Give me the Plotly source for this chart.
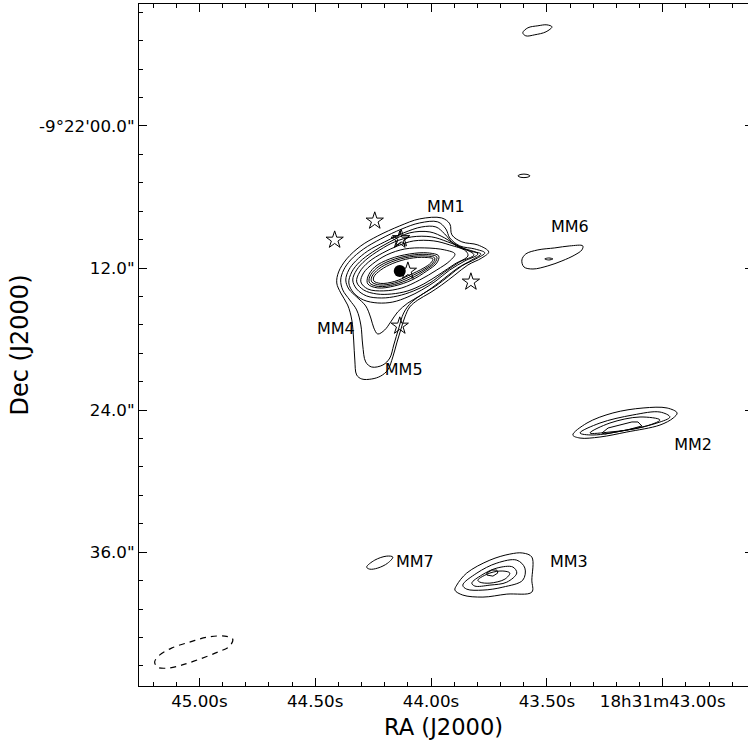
import plotly.graph_objects as go

FONT = "DejaVu Sans"

# ---- axis ticks ----
ra_tickvals = [45.0, 44.5, 44.0, 43.5, 43.0]
ra_ticktext = ["45.00s", "44.50s", "44.00s", "43.50s", "18h31m43.00s"]
dec_tickvals = [0, -12, -24, -36]
dec_ticktext = ["-9°22'00.0\"", "12.0\"", "24.0\"", "36.0\""]

# ---- contours: (RA seconds of 18h31m, Dec arcsec offset from -9°22'00") ----
mm1_c1 = [(44.049, -7.85), (43.954, -7.77), (43.919, -8.27), (43.910, -9.20), (43.867, -9.79),
          (43.798, -10.05), (43.751, -10.64), (43.781, -11.15), (43.841, -11.74), (43.897, -12.58),
          (43.954, -13.43), (44.005, -14.10), (44.057, -14.70), (44.092, -15.29), (44.113, -16.13),
          (44.131, -17.23), (44.148, -18.33), (44.165, -19.51), (44.187, -20.61), (44.217, -21.12),
          (44.256, -21.37), (44.299, -21.37), (44.321, -21.03), (44.329, -19.77), (44.334, -18.08),
          (44.342, -16.39), (44.360, -15.12), (44.390, -14.10), (44.407, -13.26), (44.399, -12.33),
          (44.364, -11.23), (44.303, -10.13), (44.230, -9.29), (44.135, -8.44), (44.049, -7.85)]
mm1_c2 = [(44.049, -8.19), (43.971, -8.10), (43.936, -8.70), (43.919, -9.46), (43.876, -10.13),
          (43.811, -10.39), (43.768, -10.72), (43.807, -11.23), (43.867, -11.82), (43.923, -12.67),
          (43.979, -13.51), (44.036, -14.19), (44.083, -14.86), (44.118, -15.79), (44.139, -17.06),
          (44.161, -18.50), (44.178, -19.60), (44.208, -20.19), (44.256, -20.36), (44.282, -19.93),
          (44.295, -18.50), (44.303, -16.81), (44.321, -15.54), (44.351, -14.70), (44.381, -13.85),
          (44.390, -13.01), (44.377, -12.16), (44.347, -11.32), (44.291, -10.39), (44.217, -9.54),
          (44.126, -8.70), (44.049, -8.19)]
mm1_c3 = [(44.040, -8.53), (43.979, -8.53), (43.941, -9.12), (43.897, -10.05), (43.833, -10.56),
          (43.785, -10.81), (43.824, -11.32), (43.884, -11.99), (43.941, -12.84), (43.997, -13.68),
          (44.049, -14.36), (44.100, -14.95), (44.144, -15.71), (44.174, -16.55), (44.200, -17.23),
          (44.230, -17.57), (44.247, -17.06), (44.260, -16.22), (44.282, -15.20), (44.321, -14.44),
          (44.355, -13.77), (44.368, -13.01), (44.355, -12.16), (44.325, -11.40), (44.273, -10.56),
          (44.200, -9.79), (44.118, -9.03), (44.040, -8.53)]
mm1_c4 = [(44.092, -9.03), (44.005, -8.95), (43.941, -9.46), (43.876, -10.22), (43.798, -10.81),
          (43.854, -11.40), (43.919, -12.16), (43.979, -13.09), (44.040, -13.85), (44.100, -14.44),
          (44.165, -14.87), (44.230, -14.95), (44.291, -14.70), (44.334, -14.10), (44.355, -13.26),
          (44.342, -12.33), (44.308, -11.48), (44.252, -10.64), (44.178, -9.79), (44.092, -9.03)]
mm1_c5 = [(44.083, -9.37), (43.997, -9.37), (43.928, -9.79), (43.854, -10.39), (43.815, -10.89),
          (43.876, -11.48), (43.941, -12.33), (44.005, -13.26), (44.075, -13.93), (44.144, -14.36),
          (44.213, -14.53), (44.278, -14.36), (44.321, -13.77), (44.338, -13.01), (44.321, -12.16),
          (44.282, -11.32), (44.221, -10.47), (44.157, -9.79), (44.083, -9.37)]
mm1_c6 = [(44.075, -9.71), (43.988, -9.71), (43.919, -10.05), (43.850, -10.56), (43.841, -10.98),
          (43.897, -11.65), (43.962, -12.50), (44.031, -13.34), (44.100, -13.93), (44.170, -14.19),
          (44.234, -14.19), (44.291, -13.85), (44.321, -13.17), (44.308, -12.33), (44.269, -11.48),
          (44.208, -10.72), (44.144, -10.13), (44.075, -9.71)]
mm1_c7 = [(44.113, -10.39), (44.027, -10.30), (43.941, -10.47), (43.897, -10.81), (43.919, -11.40),
          (43.975, -12.16), (44.049, -13.01), (44.126, -13.68), (44.204, -13.93), (44.273, -13.77),
          (44.303, -13.17), (44.291, -12.41), (44.252, -11.65), (44.191, -10.89), (44.113, -10.39)]
mm1_r1 = [(44.092, -10.81), (44.014, -10.72), (43.967, -10.98), (43.975, -11.57), (44.018, -12.24),
          (44.083, -13.01), (44.157, -13.51), (44.230, -13.68), (44.273, -13.34), (44.273, -12.75),
          (44.243, -11.91), (44.178, -11.23), (44.092, -10.81)]
mm1_r2 = [(44.092, -10.94), (44.018, -10.85), (43.975, -11.06), (43.984, -11.57), (44.023, -12.16),
          (44.087, -12.88), (44.157, -13.39), (44.226, -13.56), (44.265, -13.26), (44.265, -12.75),
          (44.234, -11.99), (44.174, -11.36), (44.092, -10.94)]
mm1_r3 = [(44.092, -11.06), (44.023, -10.98), (43.984, -11.15), (43.992, -11.57), (44.027, -12.08),
          (44.092, -12.75), (44.157, -13.26), (44.221, -13.43), (44.256, -13.17), (44.256, -12.75),
          (44.226, -12.08), (44.170, -11.48), (44.092, -11.06)]
mm1_r4 = [(44.092, -11.19), (44.027, -11.10), (43.992, -11.23), (44.001, -11.57), (44.031, -11.99),
          (44.096, -12.62), (44.157, -13.13), (44.217, -13.30), (44.247, -13.09), (44.247, -12.75),
          (44.217, -12.16), (44.165, -11.61), (44.092, -11.19)]
north_blob = [(43.625, -4.22), (43.612, -4.09), (43.586, -4.09), (43.573, -4.22), (43.586, -4.34),
              (43.612, -4.34), (43.625, -4.22)]
mm6_c1 = [(43.608, -11.32), (43.591, -10.81), (43.539, -10.47), (43.466, -10.30), (43.401, -10.13),
          (43.345, -10.13), (43.349, -10.47), (43.379, -10.89), (43.435, -11.40), (43.496, -11.82),
          (43.560, -12.08), (43.599, -11.91), (43.608, -11.32)]
mm6_c2 = [(43.509, -11.23), (43.492, -11.15), (43.474, -11.23), (43.492, -11.32), (43.509, -11.23)]
top_blob = [(43.604, 7.87), (43.582, 8.29), (43.539, 8.46), (43.500, 8.54), (43.478, 8.37),
            (43.504, 7.95), (43.552, 7.70), (43.591, 7.61), (43.604, 7.87)]
mm2_c1 = [(43.388, -26.10), (43.327, -25.09), (43.215, -24.24), (43.085, -23.82), (42.981, -23.82),
          (42.938, -24.24), (42.955, -24.67), (43.012, -25.26), (43.155, -25.85), (43.271, -26.27),
          (43.357, -26.36), (43.388, -26.10)]
mm2_c2 = [(43.357, -25.93), (43.271, -25.09), (43.129, -24.41), (43.012, -24.16), (42.969, -24.58),
          (43.025, -25.09), (43.155, -25.68), (43.301, -26.10), (43.357, -25.93)]
mm2_c3 = [(43.314, -25.93), (43.228, -25.09), (43.098, -24.58), (43.012, -24.83), (43.085, -25.43),
          (43.228, -25.85), (43.314, -25.93)]
mm2_c4 = [(43.262, -25.93), (43.236, -25.51), (43.133, -25.00), (43.107, -25.00), (43.090, -25.34),
          (43.155, -25.68), (43.249, -26.02), (43.262, -25.93)]
mm3_c1 = [(43.889, -38.78), (43.846, -37.76), (43.746, -36.67), (43.660, -36.16), (43.604, -36.07),
          (43.565, -36.41), (43.565, -38.36), (43.565, -39.37), (43.673, -39.54), (43.776, -39.79),
          (43.863, -39.62), (43.897, -39.20), (43.889, -38.78)]
mm3_c2 = [(43.863, -38.78), (43.802, -37.76), (43.716, -36.92), (43.630, -36.67), (43.595, -37.34),
          (43.604, -38.36), (43.690, -38.95), (43.776, -39.20), (43.846, -39.12), (43.863, -38.78)]
mm3_c3 = [(43.824, -38.61), (43.781, -37.93), (43.716, -37.34), (43.647, -37.25), (43.630, -37.76),
          (43.673, -38.53), (43.746, -38.78), (43.811, -38.86), (43.824, -38.61)]
mm3_c4 = [(43.798, -38.36), (43.746, -37.76), (43.690, -37.59), (43.660, -37.76), (43.681, -38.27),
          (43.746, -38.61), (43.789, -38.53), (43.798, -38.36)]
mm3_c5 = [(43.759, -37.76), (43.738, -37.51), (43.716, -37.51), (43.712, -37.76), (43.733, -38.02),
          (43.759, -37.93), (43.759, -37.76)]
mm7_c1 = [(44.278, -37.26), (44.243, -36.67), (44.191, -36.33), (44.165, -36.41), (44.187, -36.92),
          (44.230, -37.34), (44.265, -37.43), (44.278, -37.26)]
beam = [(45.193, -45.28), (45.172, -44.69), (45.120, -44.10), (45.042, -43.59), (44.964, -43.17),
        (44.891, -43.09), (44.856, -43.34), (44.869, -43.93), (44.921, -44.44), (44.999, -45.03),
        (45.077, -45.54), (45.137, -45.79), (45.180, -45.71), (45.193, -45.28)]

# ---- point sources ----
star_ra = [44.416, 44.243, 44.135, 44.129, 44.100, 43.828, 44.135]
star_dec = [-9.63, -8.02, -9.63, -9.50, -12.25, -13.17, -16.89]
peak_ra = [44.135]
peak_dec = [-12.25]

# ---- labels ----
label_text = ["MM1", "MM6", "MM4", "MM5", "MM2", "MM7", "MM3"]
label_ra = [43.936, 43.401, 44.411, 44.118, 42.869, 44.070, 43.405]
label_dec = [-6.92, -8.61, -17.23, -20.69, -27.03, -36.92, -36.92]

smooth_contours = [mm1_c1, mm1_c2, mm1_c3, mm1_c4, mm1_c5, mm1_c6, mm1_c7,
                   mm1_r1, mm1_r2, mm1_r3, mm1_r4, north_blob, mm6_c1, mm6_c2, top_blob,
                   mm2_c1, mm2_c2, mm2_c3, mm3_c1, mm3_c2, mm3_c3, mm3_c4, mm7_c1]
linear_contours = [mm2_c4, mm3_c5]

fig = go.Figure()
for c in smooth_contours:
    fig.add_trace(go.Scatter(x=[p[0] for p in c], y=[p[1] for p in c], mode="lines",
                             line=dict(color="black", width=1, shape="spline", smoothing=1.0),
                             hoverinfo="skip", showlegend=False))
for c in linear_contours:
    fig.add_trace(go.Scatter(x=[p[0] for p in c], y=[p[1] for p in c], mode="lines",
                             line=dict(color="black", width=1),
                             hoverinfo="skip", showlegend=False))
fig.add_trace(go.Scatter(x=[p[0] for p in beam], y=[p[1] for p in beam], mode="lines",
                         line=dict(color="black", width=1.2, dash="6px,5px", shape="spline", smoothing=1.0),
                         hoverinfo="skip", showlegend=False))
fig.add_trace(go.Scatter(x=peak_ra, y=peak_dec, mode="markers",
                         marker=dict(symbol="circle", size=12, color="black"),
                         showlegend=False))
fig.add_trace(go.Scatter(x=star_ra, y=star_dec, mode="markers",
                         marker=dict(symbol="star-open", size=13, color="black", line=dict(width=1, color="black")),
                         showlegend=False))
fig.add_trace(go.Scatter(x=label_ra, y=label_dec, mode="text", text=label_text,
                         textfont=dict(family=FONT, size=16, color="black"),
                         textposition="middle center", showlegend=False))
# invisible trace for right-hand tick stubs
fig.add_trace(go.Scatter(x=[44.0], y=[0], yaxis="y2", mode="markers",
                         marker=dict(opacity=0), showlegend=False, hoverinfo="skip"))

x_range = [45.2605, 42.632]
y_range = [-47.30, 10.30]

fig.update_layout(
    width=748, height=745,
    margin=dict(l=139, r=0, t=4, b=59),
    paper_bgcolor="white", plot_bgcolor="white",
    font=dict(family=FONT, size=16, color="black"),
    xaxis=dict(range=x_range, tickmode="array", tickvals=ra_tickvals, ticktext=ra_ticktext,
               ticks="inside", ticklen=8, tickwidth=1, tickcolor="black",
               showline=True, linecolor="black", linewidth=1, mirror="ticks",
               showgrid=False, zeroline=False,
               minor=dict(ticks="inside", ticklen=4, tickwidth=1, tickcolor="black", dtick=0.1, tick0=0),
               tickfont=dict(family=FONT, size=16.7, color="black"),
               title=dict(text="RA (J2000)", font=dict(family=FONT, size=22.6, color="black"), standoff=9)),
    yaxis=dict(range=y_range, tickmode="array", tickvals=dec_tickvals, ticktext=dec_ticktext,
               ticks="inside", ticklen=8, tickwidth=1, tickcolor="black",
               showline=True, linecolor="black", linewidth=1,
               showgrid=False, zeroline=False,
               minor=dict(ticks="inside", ticklen=4, tickwidth=1, tickcolor="black", dtick=2.4, tick0=0),
               tickfont=dict(family=FONT, size=16.7, color="black"),
               title=dict(text="Dec (J2000)", font=dict(family=FONT, size=24, color="black"), standoff=3)),
    yaxis2=dict(range=y_range, overlaying="y", side="right", tickmode="array", tickvals=dec_tickvals,
                ticks="inside", ticklen=3, tickcolor="black", showticklabels=False,
                showgrid=False, zeroline=False, showline=False),
)

fig.write_html("out.html")
